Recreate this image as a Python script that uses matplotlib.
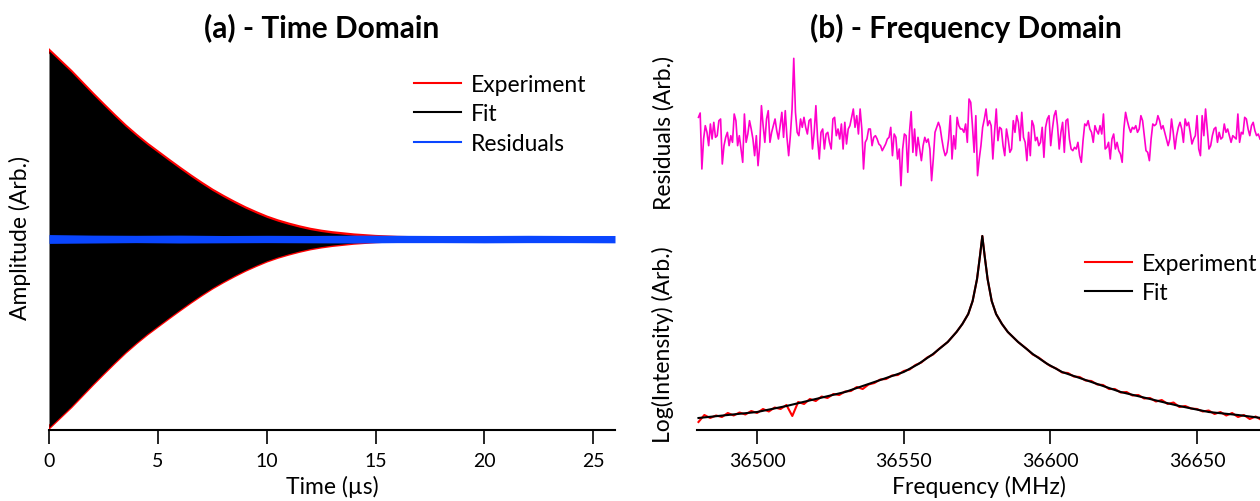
import numpy as np
import matplotlib
matplotlib.use('Agg')
import matplotlib.pyplot as plt

plt.rcParams['font.family'] = ['Lato', 'DejaVu Sans']

# ---- (a) time domain: FID envelope (arb. units) ----
fid_t = [0, 0.5, 1, 1.5, 2, 2.5, 3, 3.5, 4, 4.5, 5, 5.5, 6, 6.5, 7, 7.5, 8, 8.5, 9, 9.5,
         10, 10.5, 11, 11.5, 12, 12.5, 13, 14, 15, 16, 18, 20, 26]
fid_env = [1.0, 0.945, 0.89, 0.83, 0.77, 0.712, 0.655, 0.6, 0.55, 0.503, 0.46, 0.417,
           0.375, 0.334, 0.295, 0.258, 0.225, 0.194, 0.165, 0.139, 0.115, 0.095, 0.078,
           0.063, 0.05, 0.04, 0.032, 0.02, 0.012, 0.007, 0.003, 0.001, 0.0]
resid_t = [0, 2, 4, 6, 8, 10, 12, 14, 16, 18, 20, 22, 24, 26]
resid_hi = [0.024, 0.021, 0.02, 0.021, 0.019, 0.02, 0.019, 0.021, 0.02, 0.019, 0.019, 0.02, 0.019, 0.019]
resid_lo = [-0.023, -0.021, -0.019, -0.021, -0.02, -0.019, -0.02, -0.021, -0.019, -0.019, -0.02, -0.019, -0.019, -0.02]
time_ticks = [0, 5, 10, 15, 20, 25]

# ---- (b) frequency domain ----
fit_f = [36480, 36490, 36500, 36510, 36520, 36530, 36540, 36550, 36555, 36560, 36565, 36568,
         36570, 36572, 36573.5, 36575, 36576, 36576.8, 36577.6, 36578.6, 36580, 36581.5,
         36583.5, 36585.5, 36589, 36594, 36599, 36604, 36614, 36624, 36634, 36644, 36654,
         36664, 36672]
fit_logi = [1.2, 1.5, 1.8, 2.4, 3.1, 3.8, 4.8, 5.8, 6.6, 7.6, 8.8, 9.8,
            10.6, 11.6, 12.9, 15.1, 17.4, 19.4, 17.4, 15.1, 12.9, 11.6,
            10.6, 9.8, 8.8, 7.6, 6.6, 5.8, 4.8, 3.8, 3.1, 2.4, 1.8,
            1.5, 1.2]
exp_left = [0.8, 1.5, 1.2, 1.45, 1.3, 1.7, 1.45, 1.75, 1.55, 1.9, 1.7, 2.1, 1.85, 2.25, 2.1,
            2.5, 1.4, 2.8, 2.6, 3.1, 2.9, 3.35, 3.2, 3.6, 3.5, 3.85, 3.9, 4.3, 4.1, 4.55,
            4.7, 5.05, 5.1, 5.45, 5.5, 5.9, 6.05, 6.5, 6.75, 7.25, 7.55, 8.1]
exp_right = [8.1, 7.55, 7.25, 6.8, 6.4, 6.15, 5.75, 5.7, 5.35, 5.3, 4.95, 4.9, 4.55, 4.5,
             4.1, 4.1, 3.75, 3.8, 3.45, 3.5, 3.15, 3.2, 2.85, 3.0, 2.6, 2.75, 2.3, 2.4,
             2.15, 2.1, 1.85, 1.95, 1.6, 1.8, 1.45, 1.7, 1.3, 1.5, 1.1, 1.35, 1.0]
freq_resid = [45, 58, -110, -20, 20, 0, -40, 25, -20, 30, -15, -10, 35, 40, -95, -40, -15, 0,
              -40, -10, -30, 55, 35, -40, -10, -50, -90, 55, -30, -5, 35, 10, -20, -70, -10,
              -100, -40, 80, 20, -30, 40, 65, -30, 0, 20, 40, 5, -20, 20, 60, -15, 65, -15,
              -70, -10, 70, 222, 60, 0, -10, 40, 15, 45, 15, -5, 35, 40, -50, 0, 80, -20,
              -80, 0, 10, -50, -5, 0, -30, -50, 40, 45, -10, 10, -20, 25, -50, 30, -35, 10,
              20, 45, 70, 15, 50, -5, 70, 10, -110, -30, -20, 10, 10, -40, -15, -10, -20,
              -35, -40, -55, -45, -35, -20, -15, 15, -70, -5, -15, -80, -50, -160, -50, -5,
              -10, -120, 0, 62, -60, 10, -70, -15, -50, -85, -40, -15, -30, -20, -50, -145,
              -80, 0, 15, 30, 15, -20, -50, -70, -60, -20, 50, -80, -10, -50, 45, 20, 10, 10,
              0, 25, -30, 100, 90,
              20, -60, 50, -130, -80, -40, 15, 40, 70, 20, 35, 20, -80, 0, 70, -25, 15, 10,
              -40, -70, 10, -20, -60, -50, 35, 0, 50, 30, -25, 60, -15, -30, -85, 0, -70, 35,
              20, -25, -15, -40, -30, 15, -75, 15, 40, 50, -40, 10, 50, 65, 20, -50, 0, 30,
              -60, 35, 40, -20, -50, -55, -45, -50, -30, -70, -90, -25, 25, 20, 35, 10, 0,
              -30, 20, 5, -5, 20, -5, 55, -50, -45, -30, -80, -20, -5, -50, -30, -55, -65,
              -90, 10, 60, 35, 15, 0, 15, 10, 20, 0, 10, 50, 35, -10, -55, -60, -85, -20, 25,
              20, 25, 50, 35, 10, 20, 0, -20, -40, -20, 40, 0, -50, -10, 15, 30, 10, -30, 40,
              20, 30, 0, -35, -20, -10, 50, -50, -70, 50, -10, 70, 10, -50, -40, -10, 10, 15,
              -30, 0, -20, -15, 25, 0, 10, -10, -30, -10, -15, -20, 55, -30, 0, -5, 45, 40,
              10, -10, 20, 30, 5, -10, -5, -20]
freq_ticks = [36500, 36550, 36600, 36650]

W, H = 1260, 502
fig = plt.figure(figsize=(W / 100, H / 100), dpi=100)

def px_axes(x0, y0, x1, y1):
    return fig.add_axes([x0 / W, 1 - y1 / H, (x1 - x0) / W, (y1 - y0) / H])

tick_fs = 14
label_fs = 16.5
leg_fs = 16.5
title_fs = 21.5

# ----- left panel -----
ax = px_axes(49, 45, 615, 431)
t = np.array(fid_t)
env = np.array(fid_env)
ax.plot(t, env, color='#ff0000', lw=2.8, zorder=1)
ax.plot(t, -env, color='#ff0000', lw=2.8, zorder=1)
ax.fill_between(t, -env, env, color='black', lw=0, zorder=2)
ax.fill_between(resid_t, resid_lo, resid_hi, color='#0a46ff', lw=0, zorder=3)
ax.set_xlim(0, 26)
ax.set_ylim(-1.014, 1.036)
for s in ['left', 'right', 'top']:
    ax.spines[s].set_visible(False)
ax.spines['bottom'].set_linewidth(1.5)
ax.set_yticks([])
ax.set_xticks(time_ticks)
ax.tick_params(axis='x', direction='out', length=10, width=1.2, pad=6, labelsize=tick_fs)
ax.set_xlabel('Time (µs)', fontsize=label_fs, labelpad=4)
ax.set_ylabel('Amplitude (Arb.)', fontsize=label_fs)
ax.yaxis.set_label_coords(-0.032, 0.5)
h = [plt.Line2D([], [], color='#ff0000', lw=1.5),
     plt.Line2D([], [], color='black', lw=1.5),
     plt.Line2D([], [], color='#0a46ff', lw=1.5)]
ax.legend(h, ['Experiment', 'Fit', 'Residuals'], loc='upper left',
          bbox_to_anchor=(0.645, 0.922), frameon=False,
          fontsize=leg_fs, handlelength=2.05, handletextpad=0.44, labelspacing=0.36,
          borderpad=0, borderaxespad=0)

# ----- right panel: residuals -----
axr = px_axes(697.3, 50, 1260, 215)
fgrid = np.linspace(36480, 36671.5, len(freq_resid))
axr.plot(fgrid, freq_resid, color='#ff00cc', lw=1.2)
axr.set_xlim(36479.6, 36671.5)
axr.set_ylim(-245, 250)
axr.axis('off')
axr.text(-0.060, 0.5, 'Residuals (Arb.)', transform=axr.transAxes, rotation=90,
         ha='center', va='center', fontsize=label_fs)

# ----- right panel: log intensity -----
axf = px_axes(697.3, 225, 1260, 431)
fl = np.linspace(36480, 36562, len(exp_left))
fr = np.linspace(36592, 36672, len(exp_right))
core = [(f, v) for f, v in zip(fit_f, fit_logi) if 36562 < f < 36592]
exp_f = list(fl) + [c[0] for c in core] + list(fr)
exp_v = list(exp_left) + [c[1] for c in core] + list(exp_right)
axf.plot(exp_f, exp_v, color='#ff0000', lw=1.5, zorder=1)
axf.plot(fit_f, fit_logi, color='black', lw=1.5, zorder=2)
axf.set_xlim(36479.6, 36671.5)
axf.set_ylim(0, 20.6)
for s in ['left', 'right', 'top']:
    axf.spines[s].set_visible(False)
axf.spines['bottom'].set_linewidth(1.5)
axf.set_yticks([])
axf.set_xticks(freq_ticks)
axf.set_xticklabels([str(v) for v in freq_ticks])
axf.tick_params(axis='x', direction='out', length=10, width=1.2, pad=6, labelsize=tick_fs)
axf.set_xlabel('Frequency (MHz)', fontsize=label_fs, labelpad=4)
axf.set_ylabel('Log(Intensity) (Arb.)', fontsize=label_fs)
axf.yaxis.set_label_coords(-0.041, 0.42)
h2 = [plt.Line2D([], [], color='#ff0000', lw=1.5),
      plt.Line2D([], [], color='black', lw=1.5)]
axf.legend(h2, ['Experiment', 'Fit'], loc='upper left',
           bbox_to_anchor=(0.689, 1 - (254 - 225) / 206), frameon=False,
           fontsize=leg_fs, handlelength=2.05, handletextpad=0.44, labelspacing=0.36,
           borderpad=0, borderaxespad=0)

fig.text(322 / W, 1 - 28 / H, '(a) - Time Domain', ha='center', va='center',
         fontsize=title_fs, fontweight='bold')
fig.text(966 / W, 1 - 28 / H, '(b) - Frequency Domain', ha='center', va='center',
         fontsize=title_fs, fontweight='bold')

fig.savefig('out.png', dpi=100)
